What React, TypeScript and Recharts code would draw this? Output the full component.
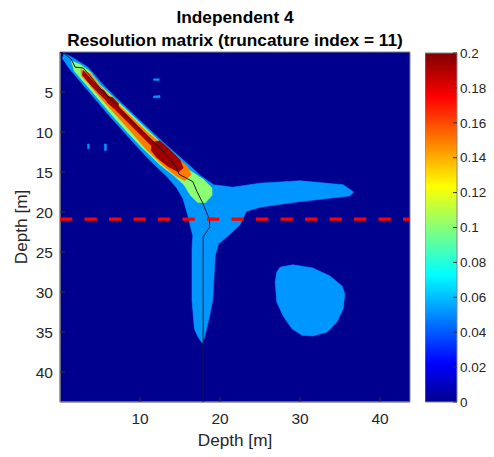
import React from "react";
import {
  ScatterChart,
  Scatter,
  XAxis,
  YAxis,
  CartesianGrid,
  ReferenceArea,
  BarChart,
  Bar,
} from "recharts";

type Pt = [number, number];

// axes
const depthMax = 43.75;
const depthTicksX = [10, 20, 30, 40];
const depthTicksY = [5, 10, 15, 20, 25, 30, 35, 40];
const colorTicks = [0, 0.02, 0.04, 0.06, 0.08, 0.1, 0.12, 0.14, 0.16, 0.18, 0.2];
const colorBarData = [{ name: "R", v: 0.2 }];

// truncation depth (red dashed line) and max-resolution path (black line)
const truncLine: Pt[] = [[0, 20.9], [43.75, 20.9]];
const ridge: Pt[] = [
  [0, 0], [0.7, 0.3], [1.4, 0.9], [1.9, 1.9], [2.9, 2.0], [3.6, 2.8], [5, 4.5],
  [7, 6.6], [9, 8.7], [11, 10.6], [12.8, 12.3], [14.4, 14.2], [14.9, 15.3],
  [16.6, 16.2], [17.1, 17.4], [17.8, 18.8], [18.7, 21.0], [18.7, 21.9],
  [17.9, 23.1], [17.9, 43.75],
];

// contour outlines, level ~0.05
const level05Main: Pt[] = [
  [0.5, 0.2], [1.4, 0.6], [3.5, 1.9], [5.3, 4.0], [7.3, 6.0], [9.4, 8.0], [11.5, 10.0],
  [13.7, 12.0], [16.2, 14.2], [17.6, 15.5], [19.2, 16.6], [21.6, 16.9], [25, 16.4],
  [30, 16.1], [35.4, 16.6], [36.7, 17.5], [36.2, 18], [30, 18.7], [25, 19.4],
  [23.3, 19.9], [22.5, 21.6], [21.2, 22.8], [19.8, 24], [19.4, 25.5], [19.1, 30.9],
  [18.7, 33], [18.1, 35.5], [17.8, 36.4], [17.3, 35.7], [16.8, 34.6], [16.5, 31],
  [16.5, 24.6], [16.6, 23], [16, 20.5], [15.4, 18.4], [14.6, 17], [13.4, 15.6],
  [11.5, 13.8], [9.8, 12.0], [8.0, 10.0], [6.2, 8.0], [4.5, 6.0], [2.8, 4.0],
  [1.2, 2.1], [0.3, 0.8],
];
const level05Blob: Pt[] = [
  [27.5, 26.9], [29.1, 26.6], [31.6, 27], [33.75, 28], [35.25, 29.25], [35.6, 30.25],
  [35.4, 32.1], [34.6, 33.75], [33.4, 35], [31.6, 35.5], [30.25, 35.4], [29, 34.6],
  [27.9, 33], [27.1, 31.25], [26.9, 28.75], [27.1, 27.5],
];
const level05DashA: Pt[] = [[11.7, 3.35], [12.4, 3.35], [12.4, 3.55], [11.7, 3.55]];
const level05DashB: Pt[] = [[11.7, 5.5], [12.5, 5.45], [12.5, 5.7], [11.7, 5.75]];
const level05DashC: Pt[] = [[3.45, 11.5], [3.65, 11.5], [3.65, 12.1], [3.45, 12.1]];
const level05DashD: Pt[] = [[5.55, 11.5], [5.8, 11.5], [5.8, 12.3], [5.55, 12.3]];

// level ~0.1
const level10: Pt[] = [
  [1.4, 1.1], [2.6, 1.6], [3.8, 2.5], [4.9, 4.0], [7.0, 6.0], [9.1, 8.0], [11.2, 10.0],
  [13.3, 12.0], [15.0, 13.6], [16.2, 14.8], [17.9, 15.9], [19.0, 17.0], [19.0, 17.9],
  [18.2, 18.8], [17.2, 18.8], [16.3, 17.9], [15.5, 16.6], [14.3, 15.5], [12.6, 14.2],
  [10.3, 12.0], [8.4, 10.0], [6.6, 8.0], [4.9, 6.0], [3.2, 4.0], [1.8, 2.4],
];

// level ~0.15
const level15: Pt[] = [
  [2.6, 2.2], [3.8, 2.7], [4.7, 3.9], [6.7, 6.0], [8.8, 8.0], [10.9, 10.0], [12.9, 11.7],
  [14.6, 13.2], [15.9, 14.3], [16.4, 15.3], [15.6, 16.1], [14.5, 15.5], [12.8, 14.1],
  [10.7, 12.1], [8.9, 10.0], [7.1, 8.0], [5.3, 6.0], [3.6, 4.0], [2.7, 3.0],
];

// level ~0.19
const level19Strip: Pt[] = [
  [2.9, 2.3], [4.4, 3.9], [6.3, 5.8], [8.3, 7.8], [10.3, 9.8], [11.8, 11.3],
  [11.4, 11.7], [9.9, 10.2], [7.9, 8.2], [5.9, 6.2], [4.0, 4.3], [2.8, 2.9],
];
const level19Big: Pt[] = [
  [11.5, 11.3], [12.5, 11.1], [13.7, 12.2], [15.0, 13.5], [15.4, 14.5], [14.8, 15.0],
  [13.5, 14.3], [12.1, 13.2], [11.4, 12.3],
];
const level19SmallA: Pt[] = [[5.8, 5.5], [6.6, 5.7], [7.3, 6.4], [7.3, 7.0], [6.6, 6.9], [5.9, 6.3]];
const level19SmallB: Pt[] = [[4.8, 4.6], [5.5, 4.8], [5.9, 5.4], [5.3, 5.5], [4.8, 5.1]];

const NAVY = "#00008F";
const LIGHT_BLUE = "#0096FF";
const GREEN = "#8CFF73";
const ORANGE = "#FF7A00";
const DARK_RED = "#A00000";
const TXT = "#262626";
const AXIS = "#858585";
const FONT = "'Liberation Sans', Arial, Helvetica, sans-serif";

const regions = [
  { id: "a", color: LIGHT_BLUE, pts: level05Main },
  { id: "b", color: LIGHT_BLUE, pts: level05Blob },
  { id: "c", color: LIGHT_BLUE, pts: level05DashA },
  { id: "d", color: LIGHT_BLUE, pts: level05DashB },
  { id: "e", color: LIGHT_BLUE, pts: level05DashC },
  { id: "f", color: LIGHT_BLUE, pts: level05DashD },
  { id: "g", color: GREEN, pts: level10 },
  { id: "h", color: ORANGE, pts: level15 },
  { id: "i", color: DARK_RED, pts: level19Strip },
  { id: "j", color: DARK_RED, pts: level19Big },
  { id: "k", color: DARK_RED, pts: level19SmallA },
  { id: "l", color: DARK_RED, pts: level19SmallB },
];

const toXY = (pts: Pt[]) => pts.map(([x, y]) => ({ x, y }));
const noDot = () => <g />;

const tickStyle = { fill: TXT, fontSize: 15.5, fontFamily: FONT };

export default function App() {
  return (
    <div style={{ position: "relative", width: 478, height: 441 }}>
      <style>{"html,body{overflow:hidden}"}</style>
      <div
        style={{
          position: "absolute", left: 27, top: -1, width: 400, textAlign: "center",
          font: `bold 17.3px ${FONT}`, lineHeight: "20px", color: "#000",
        }}
      >
        Independent 4
      </div>
      <div
        style={{
          position: "absolute", left: 0, top: 21.7, width: 454, textAlign: "center",
          font: `bold 17.3px ${FONT}`, lineHeight: "20px", color: "#000", whiteSpace: "nowrap",
        }}
      >
        Resolution matrix (truncature index = 11)
      </div>

      <div style={{ position: "absolute", left: 0, top: 0, width: 420, height: 441 }}>
        <ScatterChart width={420} height={441} margin={{ top: 44, right: 18, bottom: 0, left: 0 }}>
          <CartesianGrid horizontal={false} vertical={false} fill={NAVY} fillOpacity={1} stroke="none" />
          <XAxis
            type="number"
            dataKey="x"
            domain={[0, depthMax]}
            ticks={depthTicksX}
            interval={0}
            allowDataOverflow
            height={47}
            tickSize={-5}
            tickMargin={16}
            tickLine={{ stroke: "#333" }}
            axisLine={{ stroke: AXIS }}
            tick={tickStyle}
            label={{
              value: "Depth [m]", position: "insideBottom", offset: 3,
              fill: TXT, fontSize: 17.2, fontFamily: FONT,
            }}
          />
          <YAxis
            type="number"
            dataKey="y"
            reversed
            domain={[0, depthMax]}
            ticks={depthTicksY}
            interval={0}
            allowDataOverflow
            width={52}
            tickSize={-5}
            tickMargin={12}
            tickLine={{ stroke: "#333" }}
            axisLine={{ stroke: AXIS }}
            tick={tickStyle}
            label={{
              value: "Depth [m]", angle: -90, position: "insideLeft", offset: 12.5,
              fill: TXT, fontSize: 17.2, fontFamily: FONT, style: { textAnchor: "middle" },
            }}
          />
          {regions.map((r) => (
            <Scatter
              key={r.id}
              data={toXY(r.pts)}
              fill={r.color}
              line={{ fill: r.color, stroke: r.color, strokeWidth: 0.6 }}
              lineJointType="linearClosed"
              shape={noDot}
              isAnimationActive={false}
            />
          ))}
          <Scatter
            data={toXY(ridge)}
            fill="#1a1a1a"
            line={{ stroke: "#1a1a1a", strokeWidth: 1 }}
            lineJointType="linear"
            shape={noDot}
            isAnimationActive={false}
          />
          <Scatter
            data={toXY(truncLine)}
            fill="#FF0000"
            line={{ stroke: "#FF0000", strokeWidth: 3.3, strokeDasharray: "12.3 12.2" }}
            lineJointType="linear"
            shape={noDot}
            isAnimationActive={false}
          />
          <ReferenceArea
            x1={0}
            x2={depthMax}
            y1={0}
            y2={depthMax}
            fill="none"
            stroke={AXIS}
            ifOverflow="visible"
          />
        </ScatterChart>
      </div>

      <div style={{ position: "absolute", left: 417, top: 37, width: 62, height: 365 }}>
        <BarChart
          width={62}
          height={365}
          data={colorBarData}
          margin={{ top: 8, right: 0, bottom: 8, left: 0 }}
          barCategoryGap={0}
        >
          <defs>
            <linearGradient id="jet" x1="0" y1="1" x2="0" y2="0">
              <stop offset="0" stopColor="#00008F" />
              <stop offset="0.111" stopColor="#0000FF" />
              <stop offset="0.365" stopColor="#00FFFF" />
              <stop offset="0.619" stopColor="#FFFF00" />
              <stop offset="0.873" stopColor="#FF0000" />
              <stop offset="1" stopColor="#800000" />
            </linearGradient>
          </defs>
          <XAxis dataKey="name" hide />
          <YAxis
            orientation="right"
            type="number"
            domain={[0, 0.2]}
            ticks={colorTicks}
            interval={0}
            width={30}
            axisLine={false}
            tickSize={-4}
            tickMargin={7}
            tickLine={{ stroke: "#333" }}
            tick={{ fill: TXT, fontSize: 13.5, fontFamily: FONT }}
          />
          <Bar dataKey="v" fill="url(#jet)" stroke={AXIS} isAnimationActive={false} />
        </BarChart>
      </div>
    </div>
  );
}
